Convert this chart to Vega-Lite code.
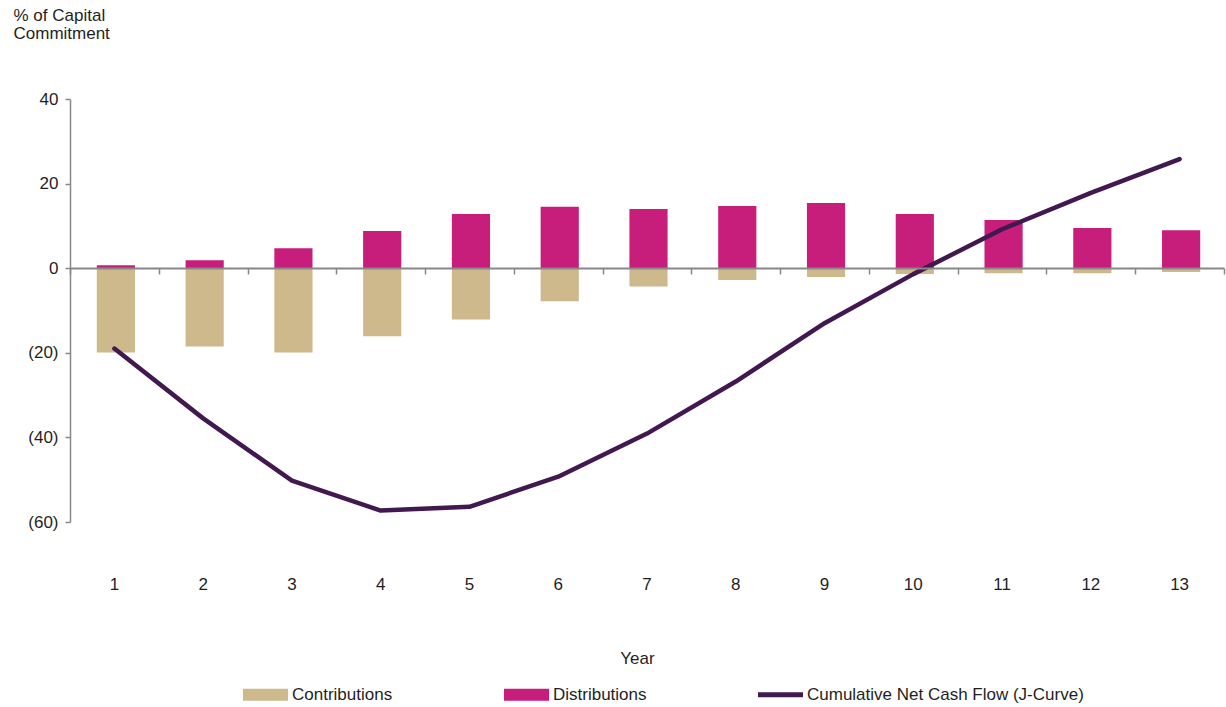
{
  "$schema": "https://vega.github.io/schema/vega-lite/v6.json",
  "width": 1154,
  "height": 423,
  "autosize": "none",
  "padding": {"left": 70, "top": 99, "right": 2, "bottom": 185},
  "background": "white",
  "config": {
    "view": {"stroke": null},
    "font": "Liberation Sans",
    "axis": {"labelFont": "Liberation Sans", "titleFont": "Liberation Sans", "labelColor": "#1f1f1f", "titleColor": "#1f1f1f", "grid": false},
    "legend": {"labelFont": "Liberation Sans", "labelColor": "#1f1f1f"}
  },
  "data": {
    "values": [
      {"year": 1, "series": "Contributions", "value": -19.9},
      {"year": 2, "series": "Contributions", "value": -18.5},
      {"year": 3, "series": "Contributions", "value": -19.9},
      {"year": 4, "series": "Contributions", "value": -16.1},
      {"year": 5, "series": "Contributions", "value": -12.1},
      {"year": 6, "series": "Contributions", "value": -7.8},
      {"year": 7, "series": "Contributions", "value": -4.3},
      {"year": 8, "series": "Contributions", "value": -2.8},
      {"year": 9, "series": "Contributions", "value": -2.1},
      {"year": 10, "series": "Contributions", "value": -1.4},
      {"year": 11, "series": "Contributions", "value": -1.2},
      {"year": 12, "series": "Contributions", "value": -1.2},
      {"year": 13, "series": "Contributions", "value": -0.9},
      {"year": 1, "series": "Distributions", "value": 0.7},
      {"year": 2, "series": "Distributions", "value": 1.9},
      {"year": 3, "series": "Distributions", "value": 4.7},
      {"year": 4, "series": "Distributions", "value": 8.8},
      {"year": 5, "series": "Distributions", "value": 12.8},
      {"year": 6, "series": "Distributions", "value": 14.5},
      {"year": 7, "series": "Distributions", "value": 14.0},
      {"year": 8, "series": "Distributions", "value": 14.7},
      {"year": 9, "series": "Distributions", "value": 15.4},
      {"year": 10, "series": "Distributions", "value": 12.8},
      {"year": 11, "series": "Distributions", "value": 11.4},
      {"year": 12, "series": "Distributions", "value": 9.5},
      {"year": 13, "series": "Distributions", "value": 9.0},
      {"year": 1, "series": "Cumulative Net Cash Flow (J-Curve)", "value": -19.0},
      {"year": 2, "series": "Cumulative Net Cash Flow (J-Curve)", "value": -35.5},
      {"year": 3, "series": "Cumulative Net Cash Flow (J-Curve)", "value": -50.2},
      {"year": 4, "series": "Cumulative Net Cash Flow (J-Curve)", "value": -57.3},
      {"year": 5, "series": "Cumulative Net Cash Flow (J-Curve)", "value": -56.4},
      {"year": 6, "series": "Cumulative Net Cash Flow (J-Curve)", "value": -49.3},
      {"year": 7, "series": "Cumulative Net Cash Flow (J-Curve)", "value": -39.1},
      {"year": 8, "series": "Cumulative Net Cash Flow (J-Curve)", "value": -26.8},
      {"year": 9, "series": "Cumulative Net Cash Flow (J-Curve)", "value": -13.0},
      {"year": 10, "series": "Cumulative Net Cash Flow (J-Curve)", "value": -1.4},
      {"year": 11, "series": "Cumulative Net Cash Flow (J-Curve)", "value": 9.2},
      {"year": 12, "series": "Cumulative Net Cash Flow (J-Curve)", "value": 17.8},
      {"year": 13, "series": "Cumulative Net Cash Flow (J-Curve)", "value": 25.8}
    ]
  },
  "encoding": {
    "y": {
      "field": "value",
      "type": "quantitative",
      "stack": null,
      "scale": {"domain": [-60, 40], "nice": false, "zero": false},
      "axis": {
        "values": [-60, -40, -20, 0, 20, 40],
        "labelExpr": "datum.value < 0 ? '(' + abs(datum.value) + ')' : datum.label",
        "domainColor": "#888888",
        "domainWidth": 1.5,
        "tickColor": "#888888",
        "tickWidth": 1.5,
        "tickSize": 5,
        "labelPadding": 7,
        "labelFontSize": 17,
        "title": ["% of Capital", "Commitment"],
        "titleAngle": 0,
        "titleAlign": "left",
        "titleBaseline": "top",
        "titleX": -57,
        "titleY": -92,
        "titleFontSize": 17,
        "titleFontWeight": "normal",
        "titleLineHeight": 18
      }
    }
  },
  "layer": [
    {
      "transform": [{"filter": "datum.series !== 'Cumulative Net Cash Flow (J-Curve)'"}],
      "mark": {"type": "bar", "width": {"band": 0.43}, "xOffset": 1.5},
      "encoding": {
        "x": {
          "field": "year",
          "type": "ordinal",
          "scale": {"paddingInner": 0, "paddingOuter": 0},
          "axis": {
            "orient": "bottom",
            "domain": false,
            "ticks": false,
            "labelAngle": 0,
            "labelPadding": 54,
            "labelFontSize": 17,
            "title": "Year",
            "titleFontSize": 17,
            "titleFontWeight": "normal",
            "titlePadding": 58,
            "titleX": 567
          }
        },
        "color": {
          "field": "series",
          "type": "nominal",
          "scale": {
            "domain": ["Contributions", "Distributions", "Cumulative Net Cash Flow (J-Curve)"],
            "range": ["#CDB98C", "#C71D7B", "#411950"]
          },
          "legend": {
            "orient": "none",
            "legendX": 173,
            "legendY": 573,
            "direction": "horizontal",
            "title": null,
            "padding": 0,
            "symbolSize": 2025,
            "symbolStrokeWidth": 0,
            "labelFontSize": 17,
            "labelOffset": 4,
            "columnPadding": 111,
            "labelLimit": 400,
            "encode": {
              "symbols": {
                "update": {
                  "shape": {"signal": "datum.value === 'Cumulative Net Cash Flow (J-Curve)' ? 'M-1,-0.11H1V0.11H-1Z' : 'M-1,-0.27H1V0.27H-1Z'"}
                }
              }
            }
          }
        }
      }
    },
    {
      "transform": [{"filter": "datum.series === 'Cumulative Net Cash Flow (J-Curve)'"}],
      "mark": {"type": "line", "color": "#411950", "strokeWidth": 4.5, "strokeCap": "round", "strokeJoin": "round"},
      "encoding": {
        "x": {
          "field": "year",
          "type": "ordinal",
          "axis": {
            "orient": "bottom",
            "offset": -254,
            "labels": false,
            "title": null,
            "tickBand": "extent",
            "tickSize": 6,
            "tickColor": "#888888",
            "tickWidth": 1.5,
            "domainColor": "#888888",
            "domainWidth": 2,
            "zindex": 1
          }
        }
      }
    }
  ],
  "resolve": {"axis": {"x": "independent"}}
}
